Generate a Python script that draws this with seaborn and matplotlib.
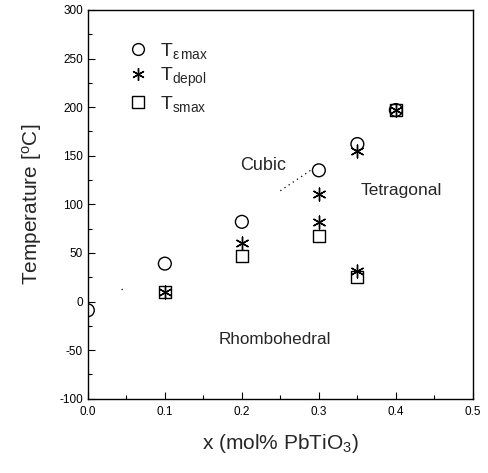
import matplotlib
matplotlib.use("Agg")
import matplotlib.pyplot as plt
import seaborn as sns
import pandas as pd
from matplotlib.ticker import MultipleLocator, FixedLocator, FixedFormatter
from matplotlib.lines import Line2D

# ---- data ----
x_emax = [0.0, 0.1, 0.2, 0.3, 0.35, 0.4]
y_emax = [-9, 39, 82, 135, 162, 197]

x_depol = [0.1, 0.2, 0.3, 0.3, 0.35, 0.35, 0.4]
y_depol = [10, 60, 111, 82, 155, 31, 197]

x_smax = [0.1, 0.2, 0.3, 0.35, 0.4]
y_smax = [10, 47, 67, 25, 197]

boundary_x = [0.25, 0.293]
boundary_y = [114, 137]
speck_x = [0.044, 0.047]
speck_y = [12, 14]

xticks = [0.0, 0.1, 0.2, 0.3, 0.4, 0.5]
xtick_labels = ["0.0", "0.1", "0.2", "0.3", "0.4", "0.5"]
yticks = [-100, -50, 0, 50, 100, 150, 200, 250, 300]

sns.set_theme(style="ticks")
plt.rcParams["font.family"] = ["Liberation Sans", "DejaVu Sans"]
plt.rcParams["mathtext.fontset"] = "custom"
plt.rcParams["mathtext.rm"] = "Liberation Sans"
plt.rcParams["mathtext.it"] = "Liberation Sans"
plt.rcParams["mathtext.default"] = "regular"
plt.rcParams["axes.unicode_minus"] = False

fig = plt.figure(figsize=(4.88, 4.73), dpi=100)
ax = fig.add_axes([0.180, 0.157, 0.789, 0.822])

df_e = pd.DataFrame({"x": x_emax, "y": y_emax})
df_d = pd.DataFrame({"x": x_depol, "y": y_depol})
df_s = pd.DataFrame({"x": x_smax, "y": y_smax})

sns.scatterplot(data=df_s, x="x", y="y", ax=ax, marker="s", s=75,
                facecolor="none", edgecolor="black", linewidth=1.0, zorder=3)
sns.scatterplot(data=df_e, x="x", y="y", ax=ax, marker="o", s=85,
                facecolor="none", edgecolor="black", linewidth=1.0, zorder=3)
sns.scatterplot(data=df_d, x="x", y="y", ax=ax, marker=(6, 2, 0), s=85,
                color="black", linewidth=1.0, zorder=4)

ax.plot(boundary_x, boundary_y, linestyle=(0, (1, 3)), color="black", linewidth=0.9)
ax.plot(speck_x, speck_y, linestyle=(0, (1, 3)), color="black", linewidth=0.9)

ax.set_xlim(0.0, 0.5)
ax.set_ylim(-100, 300)
ax.xaxis.set_major_locator(FixedLocator(xticks))
ax.xaxis.set_major_formatter(FixedFormatter(xtick_labels))
ax.xaxis.set_minor_locator(MultipleLocator(0.05))
ax.yaxis.set_major_locator(FixedLocator(yticks))
ax.yaxis.set_minor_locator(MultipleLocator(25))
ax.tick_params(axis="both", which="both", direction="in", colors="black",
               labelsize=8.5, top=False, right=False)
ax.tick_params(axis="both", which="major", length=5, width=0.8)
ax.tick_params(axis="both", which="minor", length=3, width=0.8)
ax.tick_params(axis="x", pad=5)
for sp in ax.spines.values():
    sp.set_visible(True)
    sp.set_color("black")
    sp.set_linewidth(1.0)

ax.set_xlabel("x (mol% PbTiO$_3$)", fontsize=15, labelpad=10)
ax.set_ylabel("Temperature [$^{o}$C]", fontsize=15, labelpad=11)

ax.text(0.228, 140, "Cubic", fontsize=13, ha="center", va="center")
ax.text(0.407, 114, "Tetragonal", fontsize=12.5, ha="center", va="center")
ax.text(0.243, -39, "Rhombohedral", fontsize=12.3, ha="center", va="center")

handles = [
    Line2D([], [], marker="o", linestyle="none", markerfacecolor="none",
           markeredgecolor="black", markersize=8.5, markeredgewidth=1.0),
    Line2D([], [], marker=(6, 2, 0), linestyle="none", color="black",
           markersize=9, markeredgewidth=1.0),
    Line2D([], [], marker="s", linestyle="none", markerfacecolor="none",
           markeredgecolor="black", markersize=8, markeredgewidth=1.0),
]
labels = [r"T$_{\epsilon\,max}$", r"T$_{depol}$", r"T$_{smax}$"]
ax.legend(handles, labels, loc="upper left", bbox_to_anchor=(0.06, 0.965),
          frameon=False, fontsize=14, handletextpad=0.6, labelspacing=0.25,
          handlelength=1.0)

fig.savefig("out.png", dpi=100)
